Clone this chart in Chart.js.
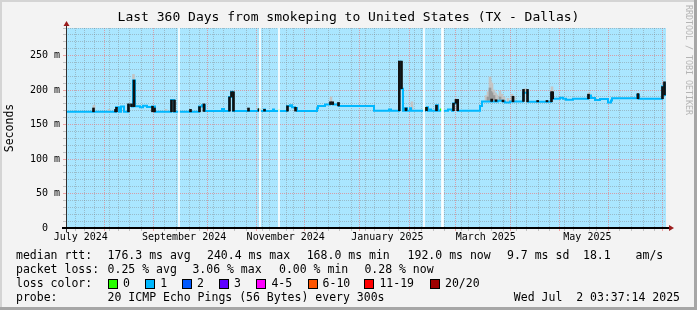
<!DOCTYPE html>
<html>
<head>
<meta charset="utf-8">
<title>smokeping 360 days</title>
<script src="https://cdn.jsdelivr.net/npm/chart.js@4/dist/chart.umd.min.js"></script>
<style>
  html, body { margin: 0; padding: 0; background: #f3f3f3; }
  canvas { display: block; }
</style>
</head>
<body>
<canvas id="smoke_chart" width="697" height="310"></canvas>
<script>
// x values are days since the start of the 360 day window (Jul 7 2024 03:37:14)

// median rtt in ms, one step per change: [day, ms, lost pings]
const medianSteps = [
  [0, 168.5, 1], [30, 175, 1], [31.8, 168.5, 1], [33, 176, 1], [34.8, 168.5, 1],
  [37.2, 178, 1], [39.6, 176, 1], [40.2, 214, 1], [41.4, 176.4, 1], [44.4, 175, 1],
  [46.2, 177.3, 1], [48.6, 175.5, 1], [51.6, 176, 1], [53.4, 168.5, 1], [63, 185.5, 1],
  [64.8, 168.5, 1], [79.8, 176, 1], [81.6, 178, 1], [83.4, 169.5, 1], [93.6, 172.5, 1],
  [94.8, 169.5, 1], [97.8, 190, 1], [99, 197.6, 1], [100.2, 169.5, 1], [115.2, 172, 0],
  [116.4, 169.5, 1], [118.8, 172, 1], [119.4, 169.5, 1], [124.2, 172, 1], [124.8, 169.5, 1],
  [127.2, 171, 0], [127.8, 169.5, 1], [132.6, 177, 1], [134.4, 178, 1], [135.6, 175, 1],
  [137.4, 174, 1], [138.6, 169.5, 1], [150.6, 173.5, 1], [151.2, 177, 1], [155.4, 179, 1],
  [158.4, 181, 1], [160.2, 179, 1], [163.2, 180, 1], [163.8, 177, 1], [184.8, 170, 1],
  [193.8, 172, 1], [195, 170, 1], [199.8, 241, 1], [201, 202, 1], [202.2, 170, 1],
  [203.4, 173.5, 1], [204.6, 170, 1], [206.4, 173.5, 1], [207, 170, 1], [215.4, 172, 0],
  [216, 175, 1], [217.2, 170, 1], [218.4, 172, 1], [219, 170, 1], [222, 178, 1],
  [223.2, 170, 1], [224.4, 172, 0], [225, 170, 1], [229.2, 172, 1], [231.6, 170, 1],
  [232.2, 180.7, 1], [233.4, 181, 1], [235.2, 170, 1], [248.4, 177, 1], [249.6, 183.5, 1],
  [259.2, 184.5, 1], [262.2, 183.5, 1], [263.4, 182, 1], [266.4, 183.5, 1], [274.2, 196, 1],
  [277.2, 183, 1], [291, 195, 1], [292.2, 187.4, 1], [296.4, 189, 1], [298.2, 187.4, 1],
  [300, 186, 1], [304.2, 187.4, 1], [313.2, 192, 1], [315, 188.5, 1], [317.4, 185.5, 1],
  [320.4, 187, 1], [325.2, 182, 1], [327, 185, 1], [327.6, 188, 1], [342.6, 193, 1],
  [343.8, 187.4, 1], [357.6, 205, 1], [358.8, 209, 1], [359.4, 193, 1], [360, 193, 1]
];

// dense smoke (dark) around the median: [day, low ms, high ms]
const coreSmoke = [
  [16.5, 168.5, 174], [29.7, 168.5, 172], [30.3, 168.5, 175], [37.5, 168.5, 180], [39.3, 176, 180],
  [40.8, 176, 214.5], [51.9, 168.5, 176.5], [53.1, 168.5, 174], [63.3, 168.5, 185.5], [65.1, 168.5, 185.5],
  [74.7, 168.5, 172], [80.1, 168.5, 176], [82.8, 169, 180], [98.1, 169.5, 190], [99.3, 190, 197.6],
  [100.5, 169.5, 197.6], [109.5, 169.5, 174], [115.8, 169.5, 173], [119.1, 169.5, 172], [132.9, 169.5, 177],
  [137.7, 169.5, 175], [158.7, 179, 183], [160, 179, 183], [163.5, 177, 182], [200, 170, 242],
  [201.3, 202, 242], [204, 170, 174], [216.3, 170, 175], [222.3, 170, 178],
  [232.5, 170, 181], [234, 181, 186.5], [235, 170, 186.5], [255.4, 183.5, 187], [258, 183.5, 186],
  [262.2, 183, 185.5], [268.2, 183, 191], [274.5, 183.5, 201], [276.9, 183, 201], [283, 183, 185],
  [288.6, 183, 185], [291.3, 183, 197.6], [292, 187.4, 197.6], [313.5, 187.4, 194], [343.2, 187.4, 195],
  [357.9, 187.4, 205], [359.1, 193, 212]
];

// light smoke (spread of the 20 pings): [day, low ms, high ms]
const lightSmoke = [
  [16.8, 172, 178], [25.8, 169, 172], [40.5, 214, 222.7], [60, 169, 172], [159, 183, 190],
  [207.6, 171, 183], [234.6, 184, 187], [252, 184, 192], [253.2, 185, 197.6], [254.4, 185, 219],
  [255, 185, 212], [255.6, 185, 209.7], [256.8, 185, 200], [257.7, 185, 196], [258.6, 185, 193],
  [260.4, 185, 198.5], [261.6, 185, 194], [262.8, 184, 190], [265.2, 183, 188], [267.6, 184, 194],
  [268.8, 184, 191], [275.4, 197, 202], [291.6, 197, 204.8], [313.8, 192, 196]
];
const midSmoke = [
  [253.2, 185, 190], [254.4, 185, 203], [255, 185, 198], [255.6, 185, 196], [256.8, 185, 192],
  [260.4, 185, 190]
];

// days without data (drawn as white columns)
const gapDays = [67.8, 116.4, 127.8, 214.8, 225.6, 226.2];

// axis labels
const monthLabels = ['July 2024', 'September 2024', 'November 2024', 'January 2025', 'March 2025', 'May 2025'];
const monthStarts = [[2024, 6], [2024, 8], [2024, 10], [2025, 0], [2025, 2], [2025, 4]];
const yMax = 290;

// legend
const rttStats = ['176.3 ms avg', '240.4 ms max', '168.0 ms min', '192.0 ms now', '9.7 ms sd', '18.1', 'am/s'];
const lossStats = ['0.25 % avg', '3.06 % max', '0.00 % min', '0.28 % now'];
const lossNames = ['0', '1', '2', '3', '4-5', '6-10', '11-19', '20/20'];
const lossColors = ['#26ff00', '#00b8ff', '#0059ff', '#5e00ff', '#ff00ff', '#ff5500', '#ff0000', '#a00000'];
const probeText = '20 ICMP Echo Pings (56 Bytes) every 300s';
const stampText = 'Wed Jul  2 03:37:14 2025';
const titleText = 'Last 360 Days from smokeping to United States (TX - Dallas)';

const MONO = '"DejaVu Sans Mono", "Liberation Mono", monospace';
const DAY = 86400000;
const startMs = Date.UTC(2024, 6, 7, 3, 37, 14);

function dayOf(t) {
  return (t - startMs) / DAY;
}

/*
 * x ticks: weekly minor lines (sundays), monthly major lines and
 * month labels centred 15 days after the month start (rrdtool style)
 */
function buildTimeTicks(scale) {
  const ticks = [];
  for (let t = Date.UTC(2024, 6, 14); dayOf(t) <= 360; t += 7 * DAY) {
    if (new Date(t).getUTCDate() !== 1) {
      ticks.push({ value: dayOf(t), kind: 'minor' });
    }
  }
  for (let m = 7; m <= 18; m++) {
    const d = dayOf(Date.UTC(2024, m, 1));
    if (d > 0 && d <= 360) ticks.push({ value: d, kind: 'major' });
  }
  monthStarts.forEach(function (ym, i) {
    ticks.push({ value: dayOf(Date.UTC(ym[0], ym[1], 1)) + 15, kind: 'label', text: monthLabels[i] });
  });
  ticks.sort(function (a, b) { return a.value - b.value; });
  scale.ticks = ticks;
}

const MINOR = 'rgba(128,128,128,0.42)';
const MAJOR = 'rgba(240,110,110,0.6)';

const rrdFrame = {
  id: 'rrdFrame',
  beforeDraw(chart) {
    const ctx = chart.ctx;
    const a = chart.chartArea;
    ctx.save();
    ctx.fillStyle = '#f3f3f3';
    ctx.fillRect(0, 0, chart.width, chart.height);
    ctx.fillStyle = '#d4d4d4';
    ctx.fillRect(0, 0, chart.width, 2);
    ctx.fillRect(0, 0, 2, chart.height);
    ctx.fillStyle = '#a6a6a6';
    ctx.fillRect(chart.width - 3, 0, 3, chart.height);
    ctx.fillRect(0, chart.height - 3, chart.width, 3);
    ctx.fillStyle = '#aae6ff';
    ctx.fillRect(a.left, a.top, a.right - a.left, a.bottom - a.top);
    ctx.restore();
  },
  afterDraw(chart) {
    const ctx = chart.ctx;
    const a = chart.chartArea;
    ctx.save();

    // axes with arrows
    ctx.fillStyle = '#303030';
    ctx.fillRect(a.left, a.top - 3, 1, a.bottom - a.top + 7);
    ctx.fillStyle = '#000';
    ctx.fillRect(a.left - 4, a.bottom - 1, a.right - a.left + 7, 2);
    ctx.fillStyle = '#9b1c1c';
    ctx.beginPath();
    ctx.moveTo(a.left + 0.5, a.top - 7);
    ctx.lineTo(a.left + 3.5, a.top - 2);
    ctx.lineTo(a.left - 2.5, a.top - 2);
    ctx.closePath();
    ctx.fill();
    ctx.beginPath();
    ctx.moveTo(a.right + 8, a.bottom);
    ctx.lineTo(a.right + 3, a.bottom - 3);
    ctx.lineTo(a.right + 3, a.bottom + 3);
    ctx.closePath();
    ctx.fill();

    // title
    ctx.fillStyle = '#000';
    ctx.textBaseline = 'middle';
    ctx.textAlign = 'center';
    ctx.font = '13px ' + MONO;
    ctx.fillText(titleText, chart.width / 2, 18);

    // vertical axis title
    ctx.save();
    ctx.translate(10.5, 128);
    ctx.rotate(-Math.PI / 2);
    ctx.font = '11.5px ' + MONO;
    ctx.fillText('Seconds', 0, 0);
    ctx.restore();

    // rrdtool watermark
    ctx.save();
    ctx.translate(688, 5);
    ctx.rotate(Math.PI / 2);
    ctx.textAlign = 'left';
    ctx.fillStyle = '#b4b4b4';
    ctx.font = '8.3px ' + MONO;
    ctx.fillText('RRDTOOL / TOBI OETIKER', 0, 0);
    ctx.restore();

    // legend rows
    ctx.font = '11.5px ' + MONO;
    ctx.textAlign = 'left';
    const rows = [256, 270, 284, 298];
    ctx.fillText('median rtt:', 16, rows[0]);
    [107.6, 207, 306.7, 407.6, 507, 583, 635.6].forEach(function (x, i) {
      ctx.fillText(rttStats[i], x, rows[0]);
    });
    ctx.fillText('packet loss:', 16, rows[1]);
    [107.6, 192.4, 279, 364.4].forEach(function (x, i) {
      ctx.fillText(lossStats[i], x, rows[1]);
    });
    ctx.fillText('loss color:', 16, rows[2]);
    [108, 145.3, 182, 219, 256.4, 307.6, 364.4, 430].forEach(function (x, i) {
      const bx = Math.round(x);
      const by = rows[2] - 5;
      ctx.fillStyle = '#000';
      ctx.fillRect(bx, by, 10, 10);
      ctx.fillStyle = lossColors[i];
      ctx.fillRect(bx + 1, by + 1, 8, 8);
      ctx.fillStyle = '#000';
      ctx.fillText(lossNames[i], x + 15, rows[2]);
    });
    ctx.fillText('probe:', 16, rows[3]);
    ctx.fillText(probeText, 107.6, rows[3]);
    ctx.textAlign = 'right';
    ctx.fillText(stampText, 680, rows[3]);
    ctx.restore();
  }
};

function floatBars(list) {
  return list.map(function (b) { return { x: b[0], y: [b[1], b[2]] }; });
}

function barSet(label, list, color, order, thickness) {
  return {
    type: 'bar',
    label: label,
    data: floatBars(list),
    backgroundColor: color,
    borderWidth: 0,
    barThickness: thickness,
    maxBarThickness: thickness,
    grouped: false,
    order: order
  };
}

function smokeChart() {
  const ctx = document.getElementById('smoke_chart');

  new Chart(ctx, {
    type: 'line',
    data: {
      datasets: [
        barSet('smoke', lightSmoke, '#c4c4c4', 5, 2),
        barSet('smoke mid', midSmoke, '#9a9a9a', 4, 2),
        {
          label: 'median rtt',
          data: medianSteps.map(function (s) { return { x: s[0], y: s[1] }; }),
          stepped: true,
          borderColor: lossColors[1],
          borderWidth: 2,
          pointRadius: 0,
          fill: false,
          segment: {
            borderColor: function (c) { return lossColors[medianSteps[c.p0DataIndex][2]]; }
          },
          order: 3
        },
        barSet('smoke core', coreSmoke, '#111111', 2, 2),
        barSet('no data', gapDays.map(function (d) { return [d, 0, yMax]; }), '#ffffff', 1, 1)
      ]
    },
    options: {
      responsive: false,
      animation: false,
      events: [],
      layout: { padding: { top: 28, right: 31, bottom: 0, left: 0 } },
      plugins: {
        legend: { display: false },
        tooltip: { enabled: false }
      },
      scales: {
        x: {
          type: 'linear',
          min: 0,
          max: 360,
          offset: false,
          afterBuildTicks: buildTimeTicks,
          afterFit: function (s) { s.height = 82; },
          border: { display: false, dash: [1, 1] },
          grid: {
            color: function (c) {
              if (!c.tick || c.tick.kind === 'label') return 'transparent';
              return c.tick.kind === 'major' ? MAJOR : MINOR;
            },
            tickColor: function (c) {
              if (!c.tick || c.tick.kind === 'label') return 'transparent';
              return c.tick.kind === 'major' ? MAJOR : MINOR;
            },
            tickLength: 3,
            lineWidth: 1
          },
          ticks: {
            autoSkip: false,
            maxRotation: 0,
            minRotation: 0,
            padding: 0,
            color: '#000',
            font: { family: MONO, size: 10 },
            callback: function (value, index, ticks) {
              return ticks[index].text || '';
            }
          }
        },
        y: {
          type: 'linear',
          min: 0,
          max: yMax,
          afterFit: function (s) { s.width = 66; },
          border: { display: false, dash: [1, 1] },
          grid: {
            color: function (c) {
              if (!c.tick || c.tick.value === 0) return 'transparent';
              return c.tick.value % 50 === 0 ? MAJOR : MINOR;
            },
            tickColor: function (c) {
              if (!c.tick) return 'transparent';
              return c.tick.value % 50 === 0 ? MAJOR : MINOR;
            },
            tickLength: 3,
            lineWidth: 1
          },
          ticks: {
            stepSize: 10,
            autoSkip: false,
            padding: 3,
            color: '#000',
            font: { family: MONO, size: 10 },
            callback: function (value) {
              if (value % 50 !== 0) return '';
              return value === 0 ? '0  ' : value + ' m';
            }
          }
        }
      }
    },
    plugins: [rrdFrame]
  });
}

smokeChart();
</script>
</body>
</html>
